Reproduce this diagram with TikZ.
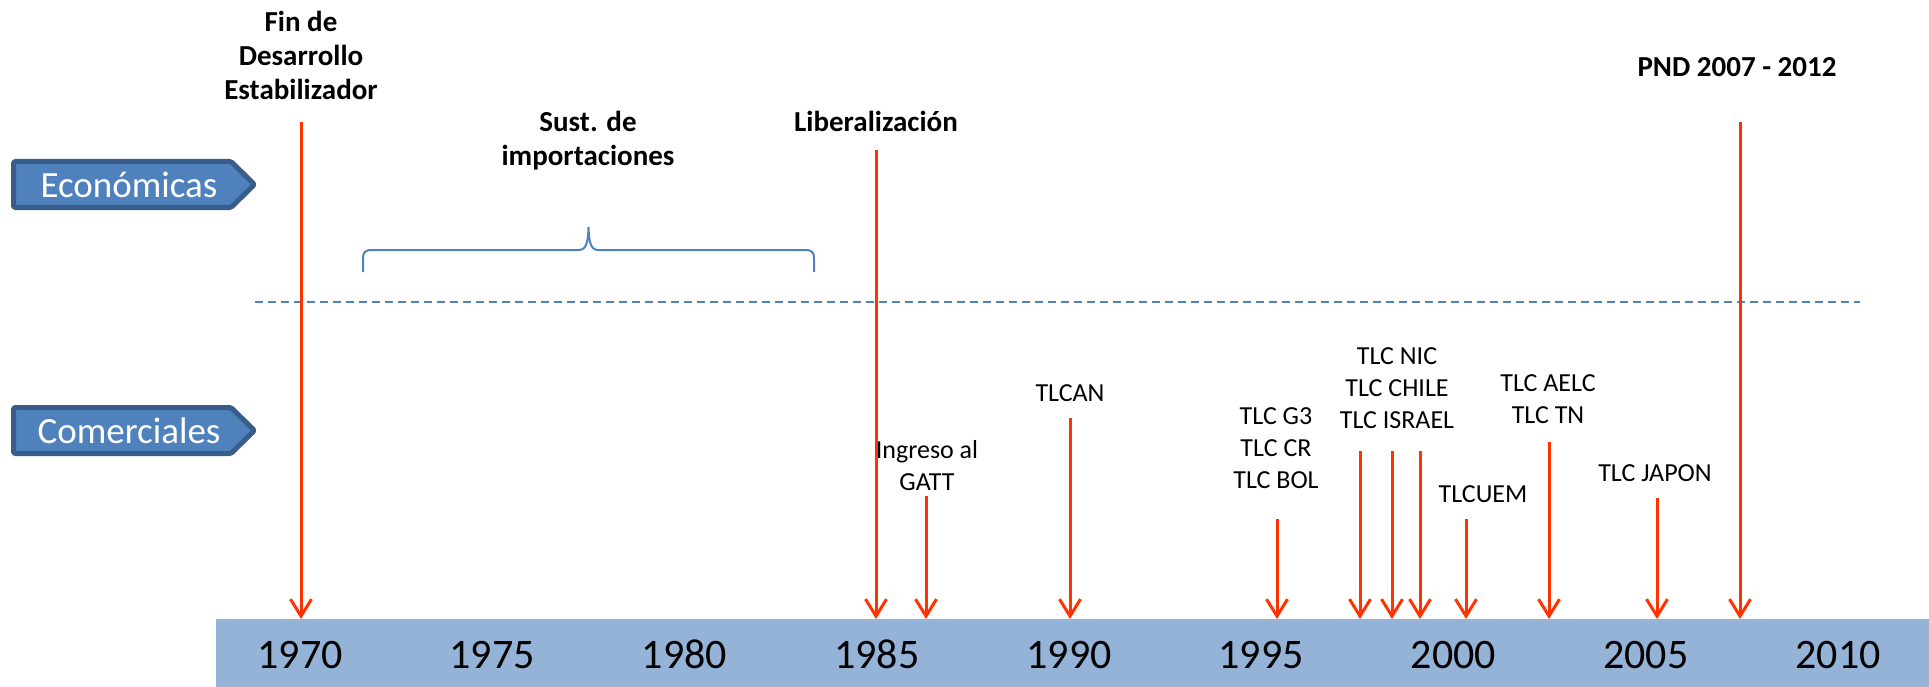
\documentclass[tikz,border=0pt]{standalone}
\usepackage{fontspec}
\setmainfont{Carlito}
\usetikzlibrary{arrows.meta}
\definecolor{boxblue}{RGB}{79,129,189}
\definecolor{boxedge}{RGB}{56,93,138}
\definecolor{barblue}{RGB}{149,179,215}
\definecolor{evred}{RGB}{255,51,0}
\newcommand{\stackl}[1]{\begin{tabular}[t]{@{}c@{}}#1\end{tabular}}
\begin{document}
\begin{tikzpicture}[x=1pt,y=-1pt,
  boldlbl/.style={inner sep=0pt, anchor=base, font=\fontsize{29}{34}\selectfont\bfseries},
  evlbl/.style={inner sep=0pt, anchor=base, font=\fontsize{26}{32}\selectfont},
  yearlbl/.style={inner sep=0pt, anchor=base, font=\fontsize{42}{50}\selectfont},
  evarrow/.style={draw=evred, line width=3pt, -{Straight Barb[length=17pt,width=21pt]}},
  tagshape/.style={fill=boxblue, draw=boxedge, line width=5pt, line join=round, rounded corners=1.5pt},
  tagtext/.style={inner sep=0pt, anchor=base, text=white, font=\fontsize{37}{44}\selectfont},
  sepline/.style={draw=boxblue, line width=2pt, dash pattern=on 8pt off 5pt},
  bracestyle/.style={draw=boxblue, line width=2pt},
]
\useasboundingbox (0,0) rectangle (1929,687);

% category tags
\path[tagshape] (13.5,161.5) -- (231,161.5) -- (254.5,184.5) -- (231,207.5) -- (13.5,207.5) -- cycle;
\node[tagtext] (econ) at (129,197) {Económicas};
\path[tagshape] (13.5,407.5) -- (231,407.5) -- (254.5,430.5) -- (231,453.5) -- (13.5,453.5) -- cycle;
\node[tagtext] (comer) at (129,443) {Comerciales};

% separator
\coordinate (sepL) at (255,301.7);
\coordinate (sepR) at (1860,301.7);
\draw[sepline] (sepL) -- (sepR);

% brace
\coordinate (brL) at (363,272);
\coordinate (brR) at (814,272);
\draw[bracestyle] (brL) -- (363,259) .. controls (363,252) and (365,250) .. (372,250)
  -- (578,250) .. controls (585,250) and (588,246) .. (588.5,227)
  .. controls (589,246) and (592,250) .. (599,250) -- (805,250)
  .. controls (812,250) and (814,252) .. (814,259) -- (brR);

% time bar
\node[fill=barblue, inner sep=0pt, minimum width=1713pt, minimum height=68pt, anchor=north west] (bar) at (216,619) {};
\foreach \yr in {1970,1975,...,2010}
  \node[yearlbl] (y\yr) at ({300+(\yr-1970)*38.45},668.7) {\yr};

% economic labels
\node[boldlbl] (fin) at (301,31.7) {\stackl{Fin de\\Desarrollo\\Estabilizador}};
\node[boldlbl] (sust) at (588,132) {\stackl{Sust. de\\importaciones}};
\node[boldlbl] (lib) at (876,132) {Liberalización};
\node[boldlbl] (pnd) at (1737,77) {PND 2007 - 2012};

% commercial labels
\node[evlbl] (gatt) at (927,458) {\stackl{Ingreso al\\GATT}};
\node[evlbl] (tlcan) at (1070,401) {TLCAN};
\node[evlbl] (g3) at (1276,424) {\stackl{TLC G3\\TLC CR\\TLC BOL}};
\node[evlbl] (nic) at (1397,364) {\stackl{TLC NIC\\TLC CHILE\\TLC ISRAEL}};
\node[evlbl] (uem) at (1483,502) {TLCUEM};
\node[evlbl] (aelc) at (1548,391) {\stackl{TLC AELC\\TLC TN}};
\node[evlbl] (japon) at (1655,481) {TLC JAPON};

% arrow tops
\coordinate (a1970) at (301,122);
\coordinate (a1985) at (876,150);
\coordinate (agatt) at (926,496);
\coordinate (atlcan) at (1070,418);
\coordinate (ag3) at (1277,519);
\coordinate (anic) at (1360,451);
\coordinate (achile) at (1392,451);
\coordinate (aisrael) at (1420,451);
\coordinate (auem) at (1466,519);
\coordinate (aaelc) at (1549,442);
\coordinate (ajapon) at (1657,498);
\coordinate (apnd) at (1740,122);

\foreach \a in {a1970,a1985,agatt,atlcan,ag3,anic,achile,aisrael,auem,aaelc,ajapon,apnd}
  \draw[evarrow] (\a) -- (\a |- bar.north);
\end{tikzpicture}
\end{document}
